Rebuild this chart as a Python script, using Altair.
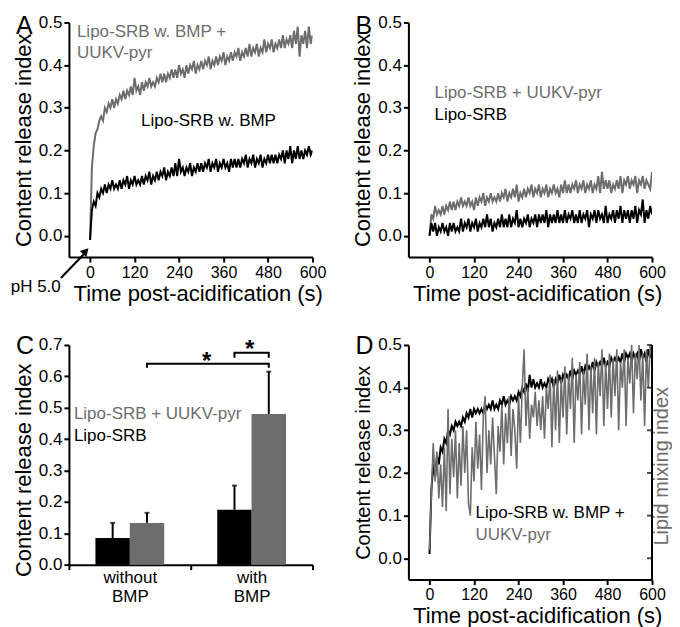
import altair as alt
import pandas as pd

# ---------------- data ----------------
time_s = list(range(0, 605, 5))

# Panel A
a_bmp_uukv = [
    -0.01, 0.16, 0.21, 0.24, 0.25, 0.27, 0.28, 0.27, 0.30, 0.29, 0.31, 0.30,
    0.32, 0.30, 0.32, 0.31, 0.33, 0.32, 0.34, 0.32, 0.34, 0.33, 0.35, 0.33,
    0.37, 0.34, 0.35, 0.33, 0.36, 0.34, 0.36, 0.35, 0.37, 0.35, 0.36, 0.35,
    0.37, 0.36, 0.38, 0.36, 0.38, 0.36, 0.38, 0.37, 0.39, 0.37, 0.39, 0.37,
    0.40, 0.38, 0.39, 0.37, 0.40, 0.38, 0.40, 0.39, 0.41, 0.38, 0.40, 0.39,
    0.41, 0.39, 0.41, 0.40, 0.42, 0.39, 0.41, 0.40, 0.42, 0.40, 0.42, 0.41,
    0.43, 0.40, 0.42, 0.41, 0.43, 0.41, 0.43, 0.42, 0.44, 0.41, 0.43, 0.42,
    0.44, 0.42, 0.45, 0.42, 0.44, 0.43, 0.45, 0.42, 0.44, 0.43, 0.46, 0.43,
    0.45, 0.44, 0.46, 0.43, 0.45, 0.44, 0.46, 0.44, 0.47, 0.44, 0.46, 0.45,
    0.47, 0.44, 0.48, 0.45, 0.49, 0.42, 0.47, 0.45, 0.48, 0.44, 0.49, 0.45,
    0.47]
a_bmp = [
    -0.01, 0.06, 0.08, 0.07, 0.10, 0.09, 0.11, 0.10, 0.12, 0.10, 0.12, 0.11,
    0.13, 0.11, 0.12, 0.11, 0.13, 0.11, 0.13, 0.12, 0.14, 0.11, 0.13, 0.12,
    0.14, 0.12, 0.13, 0.12, 0.14, 0.12, 0.14, 0.13, 0.15, 0.12, 0.14, 0.13,
    0.15, 0.13, 0.15, 0.14, 0.16, 0.13, 0.15, 0.14, 0.16, 0.14, 0.17, 0.14,
    0.18, 0.15, 0.16, 0.14, 0.16, 0.15, 0.17, 0.14, 0.16, 0.15, 0.17, 0.15,
    0.17, 0.15, 0.17, 0.16, 0.18, 0.15, 0.17, 0.16, 0.18, 0.15, 0.17, 0.16,
    0.18, 0.16, 0.17, 0.15, 0.18, 0.16, 0.18, 0.16, 0.18, 0.16, 0.18, 0.17,
    0.19, 0.16, 0.18, 0.17, 0.19, 0.16, 0.18, 0.17, 0.19, 0.16, 0.18, 0.17,
    0.19, 0.17, 0.19, 0.17, 0.19, 0.17, 0.19, 0.18, 0.20, 0.17, 0.20, 0.18,
    0.21, 0.17, 0.20, 0.18, 0.21, 0.18, 0.20, 0.18, 0.20, 0.19, 0.21, 0.19,
    0.20]

# Panel B
b_uukv = [
    0.00, 0.05, 0.04, 0.07, 0.05, 0.06, 0.05, 0.07, 0.05, 0.07, 0.06, 0.08,
    0.06, 0.08, 0.06, 0.08, 0.07, 0.09, 0.07, 0.08, 0.07, 0.09, 0.07, 0.08,
    0.06, 0.09, 0.07, 0.09, 0.08, 0.10, 0.07, 0.09, 0.08, 0.10, 0.08, 0.09,
    0.08, 0.10, 0.08, 0.10, 0.09, 0.11, 0.08, 0.10, 0.09, 0.11, 0.09, 0.12,
    0.08, 0.10, 0.09, 0.11, 0.09, 0.11, 0.10, 0.12, 0.09, 0.11, 0.10, 0.12,
    0.09, 0.11, 0.10, 0.12, 0.09, 0.11, 0.10, 0.12, 0.10, 0.11, 0.09, 0.12,
    0.10, 0.13, 0.10, 0.12, 0.10, 0.12, 0.11, 0.13, 0.10, 0.12, 0.11, 0.13,
    0.10, 0.12, 0.11, 0.13, 0.10, 0.12, 0.11, 0.14, 0.10, 0.15, 0.11, 0.13,
    0.11, 0.13, 0.10, 0.12, 0.11, 0.13, 0.11, 0.14, 0.10, 0.13, 0.12, 0.14,
    0.11, 0.13, 0.12, 0.14, 0.10, 0.13, 0.12, 0.14, 0.11, 0.13, 0.12, 0.11,
    0.15]
b_lipo = [
    0.00, 0.03, 0.01, 0.03, 0.00, 0.02, 0.01, 0.03, 0.01, 0.02, 0.00, 0.03,
    0.01, 0.03, 0.01, 0.02, 0.01, 0.04, 0.01, 0.03, 0.02, 0.04, 0.01, 0.03,
    0.02, 0.04, 0.01, 0.03, 0.02, 0.04, 0.02, 0.05, 0.02, 0.04, 0.01, 0.03,
    0.02, 0.04, 0.02, 0.05, 0.02, 0.04, 0.02, 0.05, 0.02, 0.04, 0.03, 0.06,
    0.02, 0.04, 0.02, 0.04, 0.03, 0.05, 0.02, 0.04, 0.03, 0.05, 0.02, 0.05,
    0.03, 0.05, 0.03, 0.06, 0.02, 0.05, 0.03, 0.05, 0.03, 0.06, 0.03, 0.05,
    0.03, 0.06, 0.03, 0.05, 0.04, 0.06, 0.03, 0.05, 0.03, 0.06, 0.03, 0.05,
    0.04, 0.06, 0.02, 0.05, 0.04, 0.06, 0.03, 0.06, 0.04, 0.05, 0.03, 0.07,
    0.03, 0.05, 0.04, 0.06, 0.03, 0.06, 0.04, 0.07, 0.03, 0.06, 0.04, 0.06,
    0.03, 0.06, 0.04, 0.07, 0.03, 0.06, 0.05, 0.085, 0.03, 0.06, 0.04, 0.07,
    0.05]

# Panel C
conditions = ["without BMP", "with BMP"]
series_names = ["Lipo-SRB", "Lipo-SRB + UUKV-pyr"]
bar_lipo = [0.085, 0.175]
bar_lipo_err = [0.133, 0.252]
bar_uukv = [0.133, 0.48]
bar_uukv_err = [0.165, 0.615]

# Panel D
d_content = [
    0.01, 0.16, 0.22, 0.19, 0.24, 0.22, 0.26, 0.25, 0.28, 0.27, 0.30, 0.29,
    0.31, 0.30, 0.32, 0.31, 0.32, 0.31, 0.33, 0.32, 0.34, 0.33, 0.35, 0.33,
    0.35, 0.34, 0.35, 0.34, 0.35, 0.34, 0.36, 0.35, 0.36, 0.35, 0.37, 0.35,
    0.36, 0.35, 0.37, 0.36, 0.38, 0.36, 0.37, 0.36, 0.38, 0.37, 0.38, 0.37,
    0.39, 0.38, 0.40, 0.39, 0.41, 0.39, 0.43, 0.40, 0.42, 0.40, 0.41, 0.40,
    0.42, 0.40, 0.41, 0.40, 0.42, 0.41, 0.42, 0.40, 0.42, 0.41, 0.43, 0.41,
    0.43, 0.42, 0.43, 0.42, 0.44, 0.42, 0.44, 0.43, 0.44, 0.43, 0.45, 0.43,
    0.45, 0.44, 0.45, 0.44, 0.46, 0.44, 0.46, 0.45, 0.46, 0.45, 0.47, 0.45,
    0.46, 0.45, 0.47, 0.46, 0.47, 0.46, 0.47, 0.46, 0.48, 0.46, 0.48, 0.47,
    0.48, 0.46, 0.48, 0.47, 0.48, 0.46, 0.49, 0.47, 0.48, 0.46, 0.49, 0.47,
    0.49]
d_lipid = [
    0.02, 0.15, 0.27, 0.18, 0.25, 0.14, 0.22, 0.12, 0.26, 0.11, 0.35, 0.15,
    0.28, 0.19, 0.30, 0.14, 0.27, 0.17, 0.31, 0.20, 0.30, 0.13, 0.10, 0.26,
    0.18, 0.32, 0.21, 0.29, 0.16, 0.33, 0.38, 0.20, 0.30, 0.22, 0.33, 0.24,
    0.15, 0.31, 0.25, 0.36, 0.22, 0.34, 0.27, 0.38, 0.24, 0.35, 0.30, 0.21,
    0.38, 0.27, 0.40, 0.49, 0.31, 0.40, 0.28, 0.36, 0.33, 0.39, 0.31, 0.37,
    0.30, 0.38, 0.28, 0.40, 0.35, 0.43, 0.26, 0.42, 0.30, 0.44, 0.27, 0.42,
    0.33, 0.45, 0.29, 0.43, 0.35, 0.47, 0.27, 0.43, 0.37, 0.46, 0.29, 0.44,
    0.36, 0.48, 0.30, 0.45, 0.34, 0.47, 0.29, 0.46, 0.38, 0.49, 0.31, 0.46,
    0.35, 0.48, 0.33, 0.47, 0.38, 0.49, 0.30, 0.46, 0.40, 0.49, 0.31, 0.47,
    0.41, 0.50, 0.34, 0.48, 0.42, 0.50, 0.37, 0.48, 0.31, 0.49, 0.40, 0.50,
    0.47]

x_ticks = [0, 120, 240, 360, 480, 600]
y_ticks = [0.0, 0.1, 0.2, 0.3, 0.4, 0.5]
c_ticks = [0.0, 0.1, 0.2, 0.3, 0.4, 0.5, 0.6, 0.7]

# ---------------- style ----------------
GREY = "#6d6d6d"
FONT = "Liberation Sans"
W = 244
H = 235
HC = 220
one = pd.DataFrame({"k": [0]})

x_scale = alt.Scale(domain=[-57, 600], nice=False, zero=False)
y_scale = alt.Scale(domain=[-0.05, 0.5], nice=False, zero=False)

X_AXIS = alt.Axis(values=x_ticks, title="Time post-acidification (s)",
                  titleX=W / 2 + 7, labelPadding=2, titlePadding=3, labelFontSize=16,
                  labelFlush=False)
Y_AXIS = alt.Axis(values=y_ticks, format=".1f", title="Content release index",
                  titlePadding=3, labelFlush=False)
Y_AXIS_D = alt.Axis(values=y_ticks, format=".1f", title="Content release index",
                    titlePadding=4, titleFontSize=20, labelFlush=False)


def trace(values, color, yaxis, width=2.0):
    df = pd.DataFrame({"t": time_s, "v": values})
    return alt.Chart(df).mark_line(color=color, strokeWidth=width, clip=True).encode(
        x=alt.X("t:Q", scale=x_scale, axis=X_AXIS),
        y=alt.Y("v:Q", scale=y_scale, axis=yaxis))


def label(text, t, v, color, yaxis, size=17):
    df = pd.DataFrame({"t": [t], "v": [v], "s": [text]})
    return alt.Chart(df).mark_text(align="left", baseline="alphabetic", fontSize=size,
                                   color=color).encode(
        x=alt.X("t:Q", scale=x_scale, axis=X_AXIS),
        y=alt.Y("v:Q", scale=y_scale, axis=yaxis), text="s:N")


def letter(ch, ybase):
    return alt.Chart(one).mark_text(text=ch, align="left", baseline="alphabetic",
                                    fontSize=25, color="black").encode(
        x=alt.value(-53), y=alt.value(ybase))


# ---------------- Panel A ----------------
arrow_line = alt.Chart(pd.DataFrame({"t": [-78.6], "v": [-0.099], "t2": [-16.4], "v2": [-0.043]})
                       ).mark_rule(color="black", strokeWidth=2.2).encode(
    x=alt.X("t:Q", scale=x_scale, axis=X_AXIS), y=alt.Y("v:Q", scale=y_scale, axis=Y_AXIS),
    x2="t2:Q", y2="v2:Q")
arrow_head = alt.Chart(pd.DataFrame({"t": [-11.5], "v": [-0.036]})).mark_point(
    shape="triangle-up", filled=True, size=80, angle=43, color="black", opacity=1).encode(
    x=alt.X("t:Q", scale=x_scale, axis=X_AXIS), y=alt.Y("v:Q", scale=y_scale, axis=Y_AXIS))

panel_a = alt.layer(
    trace(a_bmp_uukv, GREY, Y_AXIS),
    trace(a_bmp, "black", Y_AXIS),
    label("Lipo-SRB w. BMP +", -35.4, 0.467, GREY, Y_AXIS),
    label("UUKV-pyr", -35.4, 0.416, GREY, Y_AXIS),
    label("Lipo-SRB w. BMP", 137.6, 0.257, "black", Y_AXIS),
    label("pH 5.0", -213.8, -0.132, "black", Y_AXIS),
    arrow_line, arrow_head,
    letter("A", 12),
).properties(width=W, height=H)

# ---------------- Panel B ----------------
panel_b = alt.layer(
    trace(b_uukv, GREY, Y_AXIS),
    trace(b_lipo, "black", Y_AXIS),
    label("Lipo-SRB + UUKV-pyr", 13.3, 0.322, GREY, Y_AXIS),
    label("Lipo-SRB", 13.3, 0.271, "black", Y_AXIS),
    letter("B", 12),
).properties(width=W, height=H)

# ---------------- Panel C ----------------
bars_df = pd.DataFrame({
    "condition": conditions * 2,
    "series": [series_names[0]] * 2 + [series_names[1]] * 2,
    "value": bar_lipo + bar_uukv,
    "err": bar_lipo_err + bar_uukv_err,
})
cx = alt.X("condition:N", sort=conditions,
           scale=alt.Scale(domain=conditions, paddingInner=0, paddingOuter=0),
           axis=alt.Axis(title=None, labelExpr="split(datum.label, ' ')", tickBand="extent",
                         labelAngle=0, labelLineHeight=19, labelPadding=0,
                         labelBaseline="top"))
cxo = alt.XOffset("series:N", scale=alt.Scale(domain=series_names, paddingOuter=0.775,
                                              paddingInner=0))
cy_scale = alt.Scale(domain=[0, 0.7], nice=False, zero=True)
C_AXIS = alt.Axis(values=c_ticks, format=".1f", title="Content release index",
                  titlePadding=3, titleY=125, labelFlush=False)
series_color = alt.Color("series:N",
                         scale=alt.Scale(domain=series_names, range=["black", GREY]),
                         legend=None)

bars = alt.Chart(bars_df).mark_bar(size=34.5).encode(
    x=cx, xOffset=cxo, y=alt.Y("value:Q", scale=cy_scale, axis=C_AXIS), color=series_color)
err_rules = alt.Chart(bars_df).mark_rule(color="black", strokeWidth=2).encode(
    x=cx, xOffset=cxo, y=alt.Y("value:Q", scale=cy_scale, axis=C_AXIS), y2="err:Q")
err_caps = alt.Chart(bars_df).mark_tick(color="black", size=5, thickness=2,
                                        orient="horizontal").encode(
    x=cx, xOffset=cxo, y=alt.Y("err:Q", scale=cy_scale, axis=C_AXIS))

brackets_df = pd.DataFrame({
    "condition": ["without BMP", "without BMP", "with BMP", "with BMP",
                  "with BMP", "with BMP", "with BMP", "with BMP"],
    "series": [series_names[1]] * 4 + [series_names[0], series_names[0],
                                       series_names[1], series_names[1]],
    "value": [0.627, 0.640, 0.640, 0.627, 0.659, 0.675, 0.675, 0.659],
    "bracket": ["long"] * 4 + ["short"] * 4,
    "order": [0, 1, 2, 3, 0, 1, 2, 3],
})
brackets = alt.Chart(brackets_df).mark_line(color="black", strokeWidth=2,
                                            strokeJoin="miter").encode(
    x=cx, xOffset=cxo, y=alt.Y("value:Q", scale=cy_scale, axis=C_AXIS),
    detail="bracket:N", order="order:Q")

stars_df = pd.DataFrame({"px": [138, 181], "value": [0.622, 0.663]})
stars = alt.Chart(stars_df).mark_text(text="*", fontSize=24, fontWeight="bold",
                                      align="center", baseline="alphabetic",
                                      color="black").encode(
    x=alt.X("px:Q", scale=None), y=alt.Y("value:Q", scale=cy_scale, axis=C_AXIS))

c_legend_df = pd.DataFrame({"px": [5, 5], "value": [0.465, 0.395],
                            "s": ["Lipo-SRB + UUKV-pyr", "Lipo-SRB"],
                            "series": series_names[::-1]})
c_legend = alt.Chart(c_legend_df).mark_text(align="left", baseline="alphabetic",
                                            fontSize=17).encode(
    x=alt.X("px:Q", scale=None), y=alt.Y("value:Q", scale=cy_scale, axis=C_AXIS),
    text="s:N", color=series_color)

panel_c = alt.layer(
    bars, err_rules, err_caps, brackets, stars, c_legend, letter("C", 9)
).properties(width=W, height=HC)

# ---------------- Panel D ----------------
# right-hand axis (lipid mixing index) drawn with marks on the shared scale
d_rline = alt.Chart(pd.DataFrame({"t": [600], "lo": [-0.05], "hi": [0.5]})).mark_rule(
    color="black", strokeWidth=2).encode(
    x=alt.X("t:Q", scale=x_scale, axis=X_AXIS),
    y=alt.Y("lo:Q", scale=y_scale, axis=Y_AXIS_D), y2="hi:Q")
d_rticks = alt.Chart(pd.DataFrame({"t": [600] * 6, "v": y_ticks})).mark_tick(
    orient="horizontal", size=5, thickness=2, color="black", xOffset=-2.5).encode(
    x=alt.X("t:Q", scale=x_scale, axis=X_AXIS),
    y=alt.Y("v:Q", scale=y_scale, axis=Y_AXIS_D))
d_rtitle = alt.Chart(one).mark_text(text="Lipid mixing index", angle=270, align="center",
                                    baseline="top", fontSize=20, color=GREY).encode(
    x=alt.value(W), y=alt.value(H / 2 + 4))

panel_d = alt.layer(
    trace(d_content, "black", Y_AXIS_D, 2.0),
    trace(d_lipid, GREY, Y_AXIS_D, 1.6),
    d_rline, d_rticks, d_rtitle,
    label("Lipo-SRB w. BMP +", 124, 0.095, "black", Y_AXIS_D),
    label("UUKV-pyr", 124, 0.044, GREY, Y_AXIS_D),
    letter("D", 9),
).properties(width=W, height=H)

# ---------------- assemble ----------------
chart = alt.concat(panel_a, panel_b, panel_c, panel_d, columns=2,
                   spacing={"row": 88, "column": 96}, bounds="flush").properties(
    padding={"left": 2, "top": 5, "right": 0, "bottom": 0}
).configure_view(stroke=None).configure_axis(
    grid=False, domainColor="black", domainWidth=2, tickColor="black", tickWidth=2,
    tickSize=5, labelFont=FONT, labelFontSize=17, labelColor="black",
    titleFont=FONT, titleFontSize=22, titleFontWeight="normal", titleColor="black",
).configure_text(font=FONT)

chart.save("out.html", embed_options={"renderer": "svg", "actions": False})
